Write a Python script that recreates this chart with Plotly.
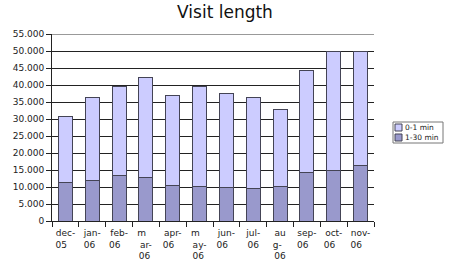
import plotly.graph_objects as go

months = ["dec-05", "jan-06", "feb-06", "mar-06", "apr-06", "may-06",
          "jun-06", "jul-06", "aug-06", "sep-06", "oct-06", "nov-06"]
tick_labels = ["dec-<br>05\u00a0\u00a0\u00a0", "jan-<br>06\u00a0\u00a0", "feb-<br>06\u00a0\u00a0\u00a0",
               "m\u00a0\u00a0\u00a0<br>ar-<br>06\u00a0", "apr-<br>06\u00a0\u00a0\u00a0", "m\u00a0\u00a0\u00a0<br>ay-<br>06\u00a0",
               "jun-<br>06\u00a0\u00a0\u00a0", "jul-<br>06", "au<br>g-\u00a0\u00a0<br>06",
               "sep-<br>06\u00a0\u00a0\u00a0", "oct-<br>06\u00a0\u00a0\u00a0", "nov-<br>06\u00a0\u00a0\u00a0"]
totals = [30800, 36300, 39700, 42300, 37000, 39700, 37600, 36300, 32900, 44200, 49800, 50000]
long_visits = [11200, 12000, 13500, 12900, 10300, 10200, 10000, 9600, 10200, 14400, 15000, 16200]
short_visits = [t - l for t, l in zip(totals, long_visits)]
y_ticks = list(range(0, 55001, 5000))
series_names = ["0-1 min", "1-30 min"]
series_colors = ["#ccccff", "#9999cc"]
edge = "#444455"

fig = go.Figure()
fig.add_trace(go.Bar(x=months, y=long_visits, name=series_names[1],
                     marker=dict(color=series_colors[1], line=dict(color=edge, width=1))))
fig.add_trace(go.Bar(x=months, y=short_visits, name=series_names[0],
                     marker=dict(color=series_colors[0], line=dict(color=edge, width=1))))

fig.update_layout(
    width=450, height=264,
    margin=dict(l=52, r=76, t=34, b=43, autoexpand=False),
    barmode="stack", bargap=0.48,
    paper_bgcolor="white", plot_bgcolor="white",
    font=dict(family="DejaVu Sans", size=9, color="#222"),
    separators=",.",
    title=dict(text="Visit length", x=0.5, xanchor="center", y=0.955, yanchor="middle",
               font=dict(size=17, color="#111")),
    showlegend=False,
    xaxis=dict(tickmode="array", tickvals=months, ticktext=tick_labels,
               tickson="boundaries", ticks="outside", ticklen=5, tickcolor="#222",
               showline=True, linecolor="#222", linewidth=1, tickangle=0,
               showgrid=False, automargin=False, ticklabelstandoff=3),
    yaxis=dict(range=[0, 55000], tickvals=y_ticks, tickformat=",d",
               ticks="outside", ticklen=5, tickcolor="#222",
               showline=True, linecolor="#222", linewidth=1, automargin=False,
               showgrid=True, gridcolor="#222", gridwidth=1, zeroline=False),
)
fig.add_shape(type="line", xref="paper", yref="y", x0=0, x1=1, y0=55000, y1=55000,
              line=dict(color="#999", width=2))

# compact legend box (paper coords: plot x 52..374, y 221..34)
def px_x(p):
    return (p - 52) / 322.0
def px_y(p):
    return (221 - p) / 187.0

fig.add_shape(type="rect", xref="paper", yref="paper",
              x0=px_x(393), x1=px_x(443), y0=px_y(122), y1=px_y(143),
              line=dict(color="#777", width=1), fillcolor="white")
for i, (nm, col) in enumerate(zip(series_names, series_colors)):
    cy = 127.5 + i * 10
    fig.add_shape(type="rect", xref="paper", yref="paper",
                  x0=px_x(395), x1=px_x(402), y0=px_y(cy - 3.5), y1=px_y(cy + 3.5),
                  line=dict(color=edge, width=1), fillcolor=col)
    fig.add_annotation(xref="paper", yref="paper", x=px_x(403), y=px_y(cy),
                       text=nm, showarrow=False, xanchor="left", yanchor="middle",
                       font=dict(size=7.5, color="#222"))
fig.write_html("out.html")
